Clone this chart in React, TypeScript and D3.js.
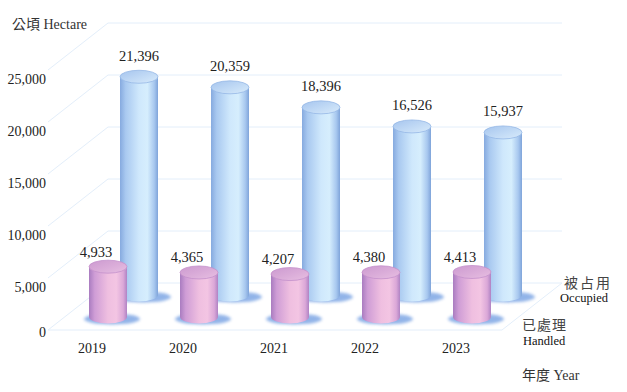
import React from "react";
import * as d3 from "d3";

const categories = ["2019", "2020", "2021", "2022", "2023"];
const occupied = [21396, 20359, 18396, 16526, 15937];
const handled = [4933, 4365, 4207, 4380, 4413];
const yTicks = [0, 5000, 10000, 15000, 20000, 25000];

const W = 627;
const H = 392;
const SERIF = "'Liberation Serif', 'Times New Roman', serif";
const CJK = "'Noto Sans CJK TC', 'Noto Sans CJK SC', sans-serif";

const fmt = d3.format(",");

// front-plane axis scale
const yFront = d3.scaleLinear().domain([0, 25000]).range([330, 70]);
// cylinder height scale
const hScale = d3.scaleLinear().domain([0, 25000]).range([0, 255]);
// pink (front row) centres
const xPoint = d3.scalePoint<string>().domain(categories).range([108, 472]);

const DX = 60;
const DY = 47;
const AX_LEFT = 48;
const AX_RIGHT = 502;
const RX = 19;
const RY = 6.5;
const PINK_BASE = 317;
const BLUE_BASE = 295;
const BLUE_OFF = 31;

function Cylinder(props: {
  cx: number;
  base: number;
  h: number;
  body: string;
  top: string;
  rim: string;
  shadow: string;
}) {
  const { cx, base, h, body, top, rim, shadow } = props;
  const t = base - h;
  const d = `M${cx - RX},${t} L${cx - RX},${base} A${RX},${RY} 0 0 0 ${cx + RX},${base} L${cx + RX},${t} Z`;
  return (
    <g>
      <ellipse cx={cx + 4} cy={base + 2} rx={28} ry={5.5} fill={shadow} opacity={0.9} filter="url(#blur)" />
      <path d={d} fill={`url(#${body})`} />
      <ellipse cx={cx} cy={t} rx={RX} ry={RY} fill={`url(#${top})`} stroke={rim} strokeWidth={0.8} />
    </g>
  );
}

export default function App() {
  return (
    <svg
      width={W}
      height={H}
      viewBox={`0 0 ${W} ${H}`}
      style={{ position: "absolute", left: 0, top: 0, background: "#fff" }}
    >
      <defs>
        <filter id="blur" x="-50%" y="-100%" width="200%" height="300%">
          <feGaussianBlur stdDeviation="1.6" />
        </filter>
        <linearGradient id="blueBody" x1="0" x2="1" y1="0" y2="0">
          <stop offset="0" stopColor="#86aadf" />
          <stop offset="0.15" stopColor="#a9c9f0" />
          <stop offset="0.5" stopColor="#cfe8fc" />
          <stop offset="0.72" stopColor="#d6eefd" />
          <stop offset="0.9" stopColor="#a8c8ef" />
          <stop offset="1" stopColor="#7fa4da" />
        </linearGradient>
        <linearGradient id="blueTop" x1="0" x2="1" y1="0" y2="1">
          <stop offset="0" stopColor="#a6c5ee" />
          <stop offset="0.6" stopColor="#c4dcf6" />
          <stop offset="1" stopColor="#d8ebfb" />
        </linearGradient>
        <linearGradient id="pinkBody" x1="0" x2="1" y1="0" y2="0">
          <stop offset="0" stopColor="#a97cc0" />
          <stop offset="0.15" stopColor="#cf9dd6" />
          <stop offset="0.5" stopColor="#efbfe0" />
          <stop offset="0.72" stopColor="#f3c5e3" />
          <stop offset="0.9" stopColor="#dba8d8" />
          <stop offset="1" stopColor="#b083c4" />
        </linearGradient>
        <linearGradient id="pinkTop" x1="0" x2="1" y1="0" y2="1">
          <stop offset="0" stopColor="#cc9ad0" />
          <stop offset="0.6" stopColor="#dcafda" />
          <stop offset="1" stopColor="#e8bfe2" />
        </linearGradient>
      </defs>

      {/* grid */}
      <g stroke="#e3eefa" strokeWidth={1} fill="none">
        {yTicks.map((t) => {
          const yf = yFront(t);
          return (
            <g key={t}>
              <line x1={AX_LEFT} y1={yf} x2={AX_LEFT + DX} y2={yf - DY} />
              <line x1={AX_LEFT + DX} y1={yf - DY} x2={AX_RIGHT + DX} y2={yf - DY} />
            </g>
          );
        })}
        <line x1={AX_LEFT} y1={yFront(0)} x2={AX_RIGHT} y2={yFront(0)} />
        <line x1={AX_RIGHT} y1={yFront(0)} x2={AX_RIGHT + DX} y2={yFront(0) - DY} />
      </g>

      {/* y tick labels */}
      <g fontFamily={SERIF} fontSize={14} fill="#222" textAnchor="end">
        {yTicks.map((t) => (
          <text key={t} x={46} y={yFront(t) + (t === 0 ? 2 : 9)} dominantBaseline="central">
            {fmt(t)}
          </text>
        ))}
      </g>

      {/* occupied (back row) */}
      {categories.map((c, i) => (
        <Cylinder
          key={"b" + c}
          cx={(xPoint(c) as number) + BLUE_OFF}
          base={BLUE_BASE}
          h={hScale(occupied[i])}
          body="blueBody"
          top="blueTop"
          rim="#95b8e6"
          shadow="#86ace6"
        />
      ))}
      {/* handled (front row) */}
      {categories.map((c, i) => (
        <Cylinder
          key={"p" + c}
          cx={xPoint(c) as number}
          base={PINK_BASE}
          h={hScale(handled[i])}
          body="pinkBody"
          top="pinkTop"
          rim="#c490cc"
          shadow="#86ace6"
        />
      ))}

      {/* value labels */}
      <g fontFamily={SERIF} fontSize={14.5} fill="#222" textAnchor="middle">
        {categories.map((c, i) => (
          <text key={"vb" + c} x={(xPoint(c) as number) + BLUE_OFF} y={BLUE_BASE - hScale(occupied[i]) - 16}>
            {fmt(occupied[i])}
          </text>
        ))}
        {categories.map((c, i) => (
          <text key={"vp" + c} x={(xPoint(c) as number) - 12} y={PINK_BASE - hScale(handled[i]) - 10}>
            {fmt(handled[i])}
          </text>
        ))}
      </g>
      <g fontFamily={SERIF} fontSize={14} fill="#222" textAnchor="middle">
        {categories.map((c) => (
          <text key={"x" + c} x={(xPoint(c) as number) - 16} y={353}>
            {c}
          </text>
        ))}
      </g>

      {/* axis title */}
      <text x={12} y={29} fontSize={14} fill="#333">
        <tspan fontFamily={CJK}>公頃</tspan>
        <tspan fontFamily={SERIF}> Hectare</tspan>
      </text>

      {/* legend */}
      <text x={588} y={288} fontFamily={CJK} fontSize={14} fill="#444" textAnchor="middle" letterSpacing={2}>
        被占用
      </text>
      <text x={608} y={302} fontFamily={SERIF} fontSize={12.5} fill="#111" textAnchor="end">
        Occupied
      </text>
      <text x={522} y={330} fontFamily={CJK} fontSize={14} fill="#444" letterSpacing={1}>
        已處理
      </text>
      <text x={523} y={345} fontFamily={SERIF} fontSize={12.5} fill="#111">
        Handled
      </text>
      <text x={522} y={380} fontSize={14} fill="#333">
        <tspan fontFamily={CJK}>年度</tspan>
        <tspan fontFamily={SERIF}> Year</tspan>
      </text>
    </svg>
  );
}
